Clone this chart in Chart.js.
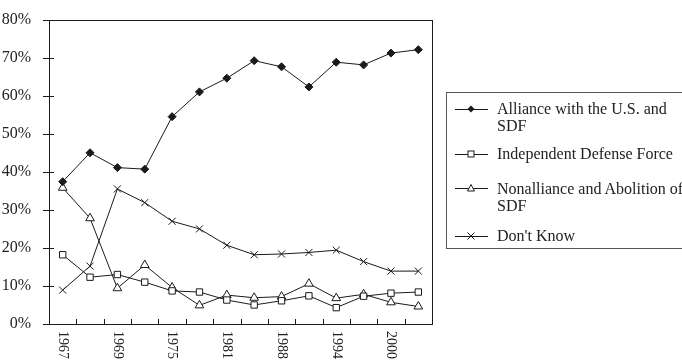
<!DOCTYPE html>
<html>
<head>
<meta charset="utf-8">
<script src="https://cdn.jsdelivr.net/npm/chart.js@4.4.1/dist/chart.umd.min.js"></script>
<style>
  body { margin: 0; background: #fff; overflow: hidden; font-family: "Liberation Serif", serif; }
  #wrap { position: absolute; left: 0; top: 0; width: 682px; height: 361px; }
  #legend { position: absolute; left: 446px; top: 92px; width: 250px; height: 157px; border: 1px solid #555; box-sizing: border-box; }
  .item { position: absolute; left: 0; width: 250px; }
  .item svg { position: absolute; left: 8px; top: -6px; }
  .item span { position: absolute; left: 50px; font-size: 16px; line-height: 17.6px; color: #222; white-space: nowrap; }
</style>
</head>
<body>
<div id="wrap"><canvas id="myChart"></canvas></div>
<div id="legend"></div>
<script>
// survey years (only every other one is labelled on the axis)
const tickLabels = ['1967', '', '1969', '', '1975', '', '1981', '', '1988', '', '1994', '', '2000', ''];

const seriesNames = ['Alliance with the U.S. and SDF', 'Independent Defense Force', 'Nonalliance and Abolition of SDF', "Don't Know"];
const legendLines = [['Alliance with the U.S. and', 'SDF'], ['Independent Defense Force'], ['Nonalliance and Abolition of', 'SDF'], ["Don't Know"]];

const alliance    = [37.4, 45.0, 41.1, 40.7, 54.5, 61.0, 64.6, 69.2, 67.6, 62.3, 68.8, 68.1, 71.2, 72.1];
const independent = [18.2, 12.3, 13.0, 11.0, 8.7, 8.4, 6.3, 5.0, 6.1, 7.4, 4.3, 7.3, 8.1, 8.4];
const nonalliance = [35.8, 27.8, 9.4, 15.5, 9.6, 4.9, 7.6, 6.9, 7.2, 10.6, 6.8, 7.8, 5.7, 4.6];
const dontKnow    = [8.9, 15.2, 35.5, 31.9, 27.0, 25.0, 20.7, 18.2, 18.4, 18.8, 19.4, 16.4, 13.9, 13.9];

const ink = '#1a1a1a';

function line(label, data, style, radius, fill) {
    return {
        label: label,
        data: data,
        borderColor: ink,
        borderWidth: 1,
        tension: 0,
        pointStyle: style,
        pointRadius: radius,
        pointBorderWidth: 1,
        pointBorderColor: ink,
        pointBackgroundColor: fill
    };
}

// box round the plot, inward tick marks, and the year labels turned clockwise
const frame = {
    id: 'frame',
    afterDraw(chart) {
        const { ctx, chartArea: a, scales: { x, y } } = chart;
        ctx.save();
        ctx.strokeStyle = ink;
        ctx.lineWidth = 1;
        ctx.strokeRect(Math.round(a.left) + 0.5, Math.round(a.top) + 0.5, Math.round(a.right - a.left), Math.round(a.bottom - a.top));
        ctx.beginPath();
        for (let i = 0; i < tickLabels.length - 1; i++) {
            const px = Math.round((x.getPixelForValue(i) + x.getPixelForValue(i + 1)) / 2) + 0.5;
            ctx.moveTo(px, a.bottom);
            ctx.lineTo(px, a.bottom - 5);
        }
        y.ticks.forEach(t => {
            const py = Math.round(y.getPixelForValue(t.value)) + 0.5;
            ctx.moveTo(a.left - 6, py);
            ctx.lineTo(a.left + 5, py);
        });
        ctx.stroke();

        ctx.fillStyle = '#222';
        ctx.font = '14px "Liberation Serif"';
        ctx.textAlign = 'left';
        ctx.textBaseline = 'middle';
        tickLabels.forEach((lab, i) => {
            if (!lab) return;
            ctx.save();
            ctx.translate(x.getPixelForValue(i), a.bottom + 7);
            ctx.rotate(Math.PI / 2);
            ctx.fillText(lab, 0, 0);
            ctx.restore();
        });
        ctx.restore();
    }
};

const ctx = document.getElementById('myChart');
const myChart = new Chart(ctx, {
    type: 'line',
    data: {
        labels: tickLabels,
        datasets: [
            line(seriesNames[0], alliance, 'rectRot', 4, ink),
            line(seriesNames[1], independent, 'rect', 4.5, '#fff'),
            line(seriesNames[2], nonalliance, 'triangle', 5, '#fff'),
            line(seriesNames[3], dontKnow, 'crossRot', 5, '#fff')
        ]
    },
    options: {
        responsive: true,
        maintainAspectRatio: false,
        animation: false,
        layout: { padding: { top: 14, right: 250, bottom: 0, left: 0 } },
        plugins: { legend: { display: false }, tooltip: { enabled: false } },
        scales: {
            x: {
                offset: true,
                ticks: { display: false },
                grid: { display: false },
                border: { display: false },
                afterFit(s) { s.height = 37; }
            },
            y: {
                min: 0,
                max: 80,
                ticks: {
                    stepSize: 10,
                    padding: 10,
                    color: '#222',
                    font: { family: 'Liberation Serif', size: 16 },
                    callback: v => v + '%'
                },
                grid: { display: false },
                border: { display: false },
                afterFit(s) { s.width = 49; }
            }
        }
    },
    plugins: [frame]
});

// legend with wrapped labels, built from the datasets
const rowTop = [15.5, 61, 95.3, 142.5];
const legend = document.getElementById('legend');
myChart.data.datasets.forEach((ds, i) => {
    const c = 16, m = 6;
    let mark = '';
    if (ds.pointStyle === 'rectRot') mark = `<polygon points="${c},${m - 3.5} ${c + 3.5},${m} ${c},${m + 3.5} ${c - 3.5},${m}" fill="${ink}"/>`;
    if (ds.pointStyle === 'rect') mark = `<rect x="${c - 3}" y="${m - 3}" width="6" height="6" fill="#fff" stroke="${ink}"/>`;
    if (ds.pointStyle === 'triangle') mark = `<polygon points="${c},${m - 3.5} ${c + 3.5},${m + 3} ${c - 3.5},${m + 3}" fill="#fff" stroke="${ink}"/>`;
    if (ds.pointStyle === 'crossRot') mark = `<path d="M${c - 3.5} ${m - 3.5}L${c + 3.5} ${m + 3.5}M${c + 3.5} ${m - 3.5}L${c - 3.5} ${m + 3.5}" stroke="${ink}"/>`;
    const item = document.createElement('div');
    item.className = 'item';
    item.style.top = rowTop[i] + 'px';
    item.innerHTML = `<svg width="40" height="12"><line x1="0" y1="${m + 0.5}" x2="33" y2="${m + 0.5}" stroke="${ink}"/>${mark}</svg>` +
        `<span style="top:-8.8px">${legendLines[i].join('<br>')}</span>`;
    legend.appendChild(item);
});
</script>
</body>
</html>
